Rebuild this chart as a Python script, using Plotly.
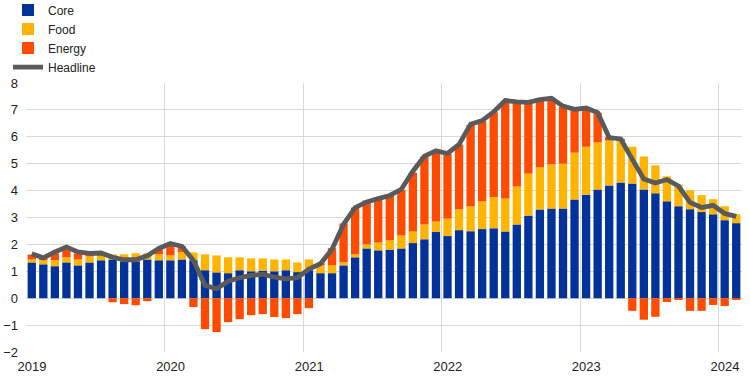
import plotly.graph_objects as go

months = [f"{y}-{m:02d}" for y in range(2019, 2025) for m in range(1, 13)][:62]

core = [1.33, 1.26, 1.19, 1.33, 1.22, 1.33, 1.41, 1.44, 1.37, 1.37, 1.44, 1.41,
        1.41, 1.44, 1.41, 1.04, 0.96, 0.93, 1.04, 1.00, 1.02, 1.00, 1.04, 0.97,
        1.04, 0.93, 0.93, 1.22, 1.52, 1.85, 1.78, 1.80, 1.85, 2.05, 2.19, 2.46,
        2.31, 2.53, 2.49, 2.57, 2.60, 2.48, 2.74, 3.07, 3.30, 3.33, 3.33, 3.67,
        3.85, 4.04, 4.19, 4.30, 4.26, 4.04, 3.90, 3.60, 3.42, 3.31, 3.20, 3.12,
        2.90, 2.79]
food = [0.11, 0.18, 0.22, 0.19, 0.22, 0.23, 0.18, 0.19, 0.26, 0.30, 0.23, 0.22,
        0.18, 0.28, 0.29, 0.59, 0.63, 0.59, 0.48, 0.48, 0.46, 0.44, 0.40, 0.36,
        0.40, 0.33, 0.29, 0.11, 0.11, 0.15, 0.29, 0.35, 0.48, 0.43, 0.55, 0.39,
        0.65, 0.77, 0.92, 1.03, 1.15, 1.23, 1.41, 1.56, 1.56, 1.64, 1.67, 1.74,
        1.78, 1.75, 1.67, 1.56, 1.37, 1.23, 1.04, 0.93, 0.81, 0.70, 0.63, 0.56,
        0.52, 0.33]
energy = [0.18, 0.05, 0.26, 0.28, 0.23, 0.10, 0.08, -0.15, -0.22, -0.26, -0.11, 0.18,
          0.41, 0.21, -0.33, -1.15, -1.26, -0.89, -0.78, -0.63, -0.59, -0.70, -0.74, -0.59,
          -0.37, 0.04, 0.64, 1.45, 1.74, 1.63, 1.64, 1.65, 1.70, 2.19, 2.52, 2.60,
          2.40, 2.41, 3.03, 2.98, 3.16, 3.60, 3.10, 2.62, 2.48, 2.43, 2.12, 1.59,
          1.41, 1.11, 0.13, 0.07, -0.47, -0.80, -0.69, -0.14, -0.06, -0.47, -0.47, -0.25,
          -0.29, -0.06]
headline = [1.65, 1.50, 1.72, 1.90, 1.72, 1.67, 1.68, 1.52, 1.43, 1.43, 1.58, 1.85,
            2.03, 1.93, 1.40, 0.48, 0.35, 0.63, 0.76, 0.85, 0.89, 0.78, 0.72, 0.76,
            1.08, 1.28, 1.82, 2.75, 3.37, 3.58, 3.70, 3.82, 4.05, 4.72, 5.28, 5.48,
            5.38, 5.72, 6.47, 6.60, 6.93, 7.35, 7.30, 7.28, 7.38, 7.43, 7.14, 7.02,
            7.07, 6.90, 5.97, 5.92, 5.16, 4.43, 4.28, 4.41, 4.17, 3.56, 3.37, 3.45,
            3.15, 3.04]

years = ["2019", "2020", "2021", "2022", "2023", "2024"]
y_ticks = [-2, -1, 0, 1, 2, 3, 4, 5, 6, 7, 8]

x = list(range(len(months)))
year_bounds = [i - 0.5 for i, m in enumerate(months) if m.endswith("-01")]

C_CORE = "#003299"
C_FOOD = "#FFB400"
C_ENERGY = "#FF4B00"
C_HEAD = "#5A5A5A"
GRID = "#D9D9D9"

fig = go.Figure()
fig.add_trace(go.Bar(x=x, y=core, name="Core", marker=dict(color=C_CORE, line_width=0), customdata=months))
fig.add_trace(go.Bar(x=x, y=food, name="Food", marker=dict(color=C_FOOD, line_width=0), customdata=months))
fig.add_trace(go.Bar(x=x, y=energy, name="Energy", marker=dict(color=C_ENERGY, line_width=0), customdata=months))
fig.add_trace(go.Scatter(x=x, y=headline, name="Headline", mode="lines",
                         line=dict(color=C_HEAD, width=4.8), customdata=months))

fig.update_layout(
    width=750, height=377,
    margin=dict(l=26, r=8, t=83, b=25, autoexpand=False),
    barmode="relative",
    bargap=0.28,
    plot_bgcolor="white",
    paper_bgcolor="white",
    font=dict(family="Liberation Sans, Arial, sans-serif", size=13, color="#222222"),
    showlegend=True,
    legend=dict(x=8 / 750, xanchor="left", xref="container",
                y=1.325, yanchor="top", yref="paper",
                bgcolor="rgba(0,0,0,0)", font=dict(size=12, color="#222222"),
                tracegroupgap=0, itemwidth=30),
    xaxis=dict(range=[-0.5, len(months) - 0.5], tickmode="array",
               tickvals=year_bounds, ticktext=years, ticklabelshift=6,
               ticklabelstandoff=5,
               showgrid=True, gridcolor=GRID, gridwidth=1, zeroline=False,
               showline=False, ticks="", tickfont=dict(size=13), automargin=False),
    yaxis=dict(range=[-2, 8], tickmode="array", tickvals=y_ticks,
               ticklabelstandoff=7,
               showgrid=True, gridcolor=GRID, gridwidth=1,
               zeroline=True, zerolinecolor=GRID, zerolinewidth=1,
               showline=False, ticks="", tickfont=dict(size=13), automargin=False),
)

fig.write_html("out.html", config={"displayModeBar": False},
               post_script="document.body.style.margin='0';document.body.style.padding='0';")
